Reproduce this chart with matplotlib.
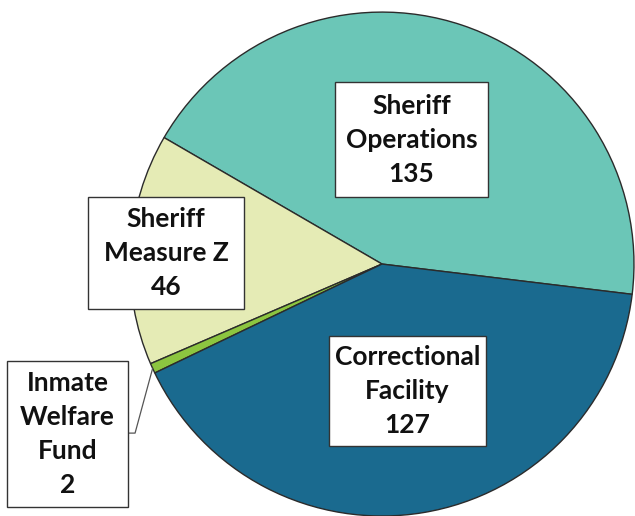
import numpy as np
import matplotlib.pyplot as plt
from matplotlib.patches import Rectangle

plt.rcParams['font.family'] = ['Lato', 'DejaVu Sans']

# slices in drawing order (counter-clockwise from the start angle)
names = ["Sheriff\nOperations", "Sheriff\nMeasure Z", "Inmate\nWelfare\nFund", "Correctional\nFacility"]
counts = [135, 46, 2, 127]
colors = ["#6BC6B7", "#E5EBB5", "#8CC540", "#1A6A8F"]

# label boxes: centre x, centre y, width, height (data units, pie radius = 1)
label_boxes = [(0.117, 0.494, 0.607, 0.456),
               (-0.857, 0.044, 0.619, 0.444),
               (-1.248, -0.675, 0.480, 0.579),
               (0.101, -0.504, 0.623, 0.437)]

fig = plt.figure(figsize=(6.35, 5.16), dpi=100)
ax = fig.add_axes([0, 0, 1, 1])

wedges, _ = ax.pie(counts, colors=colors, startangle=-6.9, counterclock=True,
                   radius=1.0,
                   wedgeprops=dict(edgecolor="#2b2b2b", linewidth=1.0))

for (name, val), (cx, cy, bw, bh) in zip(zip(names, counts), label_boxes):
    ax.add_patch(Rectangle((cx - bw / 2, cy - bh / 2), bw, bh, facecolor="white",
                           edgecolor="#333333", linewidth=1.0, zorder=5))
    ax.text(cx, cy, f"{name}\n{val}", ha="center", va="center",
            fontsize=19, fontweight="bold", color="#111111", linespacing=1.5,
            zorder=6)

# leader line for the small slice
w = wedges[2]
mid = np.deg2rad((w.theta1 + w.theta2) / 2)
ex, ey = np.cos(mid), np.sin(mid)
ax.plot([-1.008, -0.98, ex], [-0.671, -0.671, ey], color="#555555", lw=0.9, zorder=4)

ax.set_xlim(-1.516, 1.004)
ax.set_ylim(-1.0, 1.048)
ax.set_aspect("auto")
ax.axis("off")

fig.savefig("out.png", dpi=100)
